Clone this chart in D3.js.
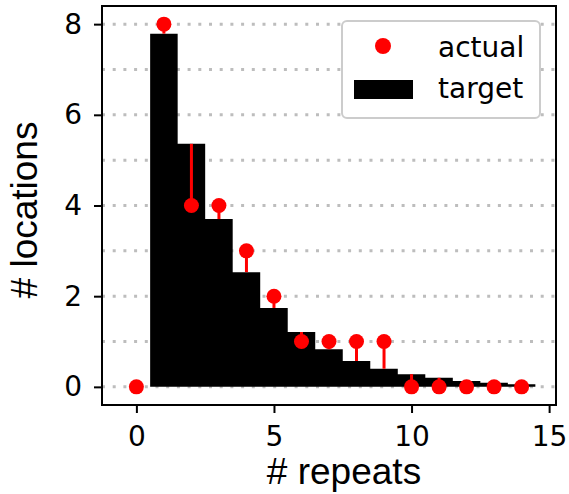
<!DOCTYPE html>
<html>
<head>
<meta charset="utf-8">
<script src="https://cdn.jsdelivr.net/npm/d3@7"></script>
<style>
  body { margin: 0; background: #fff; }
  .axis text { font-family: "DejaVu Sans", sans-serif; font-size: 28px; fill: #000; }
  .axis line { stroke: #000; stroke-width: 2; }
  .label { font-family: "Liberation Sans", Arial, sans-serif; font-size: 37px; fill: #000; }
  .legend text { font-family: "DejaVu Sans", sans-serif; font-size: 28px; fill: #000; }
</style>
</head>
<body>
<script>
//data
var repeats = [0, 1, 2, 3, 4, 5, 6, 7, 8, 9, 10, 11, 12, 13, 14];
var actual = [0, 8, 4, 4, 3, 2, 1, 1, 1, 1, 0, 0, 0, 0, 0];
var target = [0, 7.79, 5.36, 3.70, 2.53, 1.74, 1.21, 0.83, 0.57, 0.40, 0.28, 0.20, 0.13, 0.09, 0.06];
var xTicks = [0, 5, 10, 15];
var yTicks = [0, 2, 4, 6, 8];
var gridLevels = [0, 1, 2, 3, 4, 5, 6, 7, 8];

var width = 569, height = 494;
var plotLeft = 102, plotRight = 556, plotTop = 6, plotBottom = 405;

var svg = d3.select("body")
    .append("svg")
    .attr("width", width)
    .attr("height", height);

//scales
var x = d3.scaleLinear()
    .domain([-1.25, 15.25])
    .range([plotLeft, plotRight]);

var y = d3.scaleLinear()
    .domain([-0.4, 8.4])
    .range([plotBottom, plotTop]);

//dotted grid
svg.selectAll(".grid")
    .data(gridLevels)
    .enter()
    .append("line")
    .attr("class", "grid")
    .attr("x1", plotLeft)
    .attr("x2", plotRight)
    .attr("y1", function(d){ return y(d); })
    .attr("y2", function(d){ return y(d); })
    .style("stroke", "#bdbdbd")
    .style("stroke-width", 3)
    .style("stroke-dasharray", "3,7.7");

//target as one step shape, bar edges at i-0.5 .. i+0.5
var steps = repeats.map(function(d, i){ return [d - 0.5, target[i]]; });
steps.push([repeats[repeats.length - 1] + 0.5, target[target.length - 1]]);

var stepArea = d3.area()
    .curve(d3.curveStepAfter)
    .x(function(d){ return x(d[0]); })
    .y0(y(0))
    .y1(function(d){ return y(d[1]); });

svg.append("path")
    .datum(steps)
    .attr("class", "target")
    .attr("d", stepArea)
    .style("fill", "#000");

//stems from target to actual
svg.selectAll(".stem")
    .data(repeats)
    .enter()
    .append("line")
    .attr("class", "stem")
    .attr("x1", function(d){ return x(d); })
    .attr("x2", function(d){ return x(d); })
    .attr("y1", function(d, i){ return y(target[i]); })
    .attr("y2", function(d, i){ return y(actual[i]); })
    .style("stroke", "#ff0000")
    .style("stroke-width", 3);

//actual points
svg.selectAll(".dot")
    .data(repeats)
    .enter()
    .append("circle")
    .attr("class", "dot")
    .attr("cx", function(d){ return x(d); })
    .attr("cy", function(d, i){ return y(actual[i]); })
    .attr("r", 7.5)
    .style("fill", "#ff0000");

//axes
svg.append("g")
    .attr("class", "axis")
    .attr("transform", "translate(0," + plotBottom + ")")
    .call(d3.axisBottom(x).tickValues(xTicks).tickSize(8).tickPadding(13));

svg.append("g")
    .attr("class", "axis")
    .attr("transform", "translate(" + plotLeft + ",0)")
    .call(d3.axisLeft(y).tickValues(yTicks).tickSize(8).tickPadding(12));

svg.selectAll(".axis .domain").remove();

//frame
svg.append("rect")
    .attr("x", plotLeft)
    .attr("y", plotTop)
    .attr("width", plotRight - plotLeft)
    .attr("height", plotBottom - plotTop)
    .style("fill", "none")
    .style("stroke", "#000")
    .style("stroke-width", 2);

//axis labels
svg.append("text")
    .attr("class", "label")
    .attr("text-anchor", "middle")
    .attr("x", 344)
    .attr("y", 484)
    .text("# repeats");

svg.append("text")
    .attr("class", "label")
    .attr("text-anchor", "middle")
    .attr("transform", "translate(37,210) rotate(-90)")
    .text("# locations");

//legend
var legend = svg.append("g").attr("class", "legend");

legend.append("rect")
    .attr("x", 342)
    .attr("y", 21)
    .attr("width", 198)
    .attr("height", 97)
    .attr("rx", 5)
    .style("fill", "#fff")
    .style("stroke", "#cccccc")
    .style("stroke-width", 2);

legend.append("circle")
    .attr("cx", 383)
    .attr("cy", 46)
    .attr("r", 8)
    .style("fill", "#ff0000");

legend.append("rect")
    .attr("x", 354)
    .attr("y", 80)
    .attr("width", 59)
    .attr("height", 19)
    .style("fill", "#000");

legend.append("text")
    .attr("x", 438)
    .attr("y", 57)
    .text("actual");

legend.append("text")
    .attr("x", 438)
    .attr("y", 98)
    .text("target");
</script>
</body>
</html>
